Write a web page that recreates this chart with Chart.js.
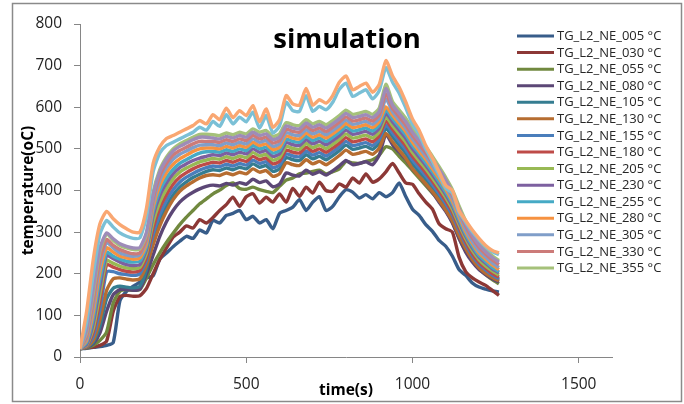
<!DOCTYPE html>
<html>
<head>
<meta charset="utf-8">
<script src="https://cdn.jsdelivr.net/npm/chart.js@4.4.1/dist/chart.umd.min.js"></script>
<style>
  html, body { margin: 0; padding: 0; background: #fff; }
  canvas { display: block; }
</style>
</head>
<body>
<canvas id="chart" width="684" height="404"></canvas>
<script>
// Time axis (s)
const timeS = [0,20,40,60,80,100,120,140,160,180,200,220,240,260,280,300,320,340,360,380,400,420,440,460,480,500,520,540,560,580,600,620,640,660,680,700,720,740,760,780,800,820,840,860,880,900,920,940,960,980,1000,1020,1040,1060,1080,1100,1120,1140,1160,1180,1200,1220,1240,1260];

const sensorNames = ['TG_L2_NE_005 °C','TG_L2_NE_030 °C','TG_L2_NE_055 °C','TG_L2_NE_080 °C','TG_L2_NE_105 °C','TG_L2_NE_130 °C','TG_L2_NE_155 °C','TG_L2_NE_180 °C','TG_L2_NE_205 °C','TG_L2_NE_230 °C','TG_L2_NE_255 °C','TG_L2_NE_280 °C','TG_L2_NE_305 °C','TG_L2_NE_330 °C','TG_L2_NE_355 °C','TG_L2_NE_380 °C','TG_L2_NE_405 °C','TG_L2_NE_430 °C'];

const lineColors = ['#385D8A','#8C3836','#71893F','#5C4776','#357D91','#B66D31','#4A7EBB','#BE4B48','#98B954','#7D60A0','#46AAC5','#F69240','#809EC9','#CC7B79','#A5C17A','#9E8CB8','#7BC0D6','#F9A772'];

// Temperatures (°C) per sensor
const tg005 = [20,21,23,25,28,35,135,158,170,180, 190,195,235,250,265,278,290,285,305,298, 328,322,340,345,352,330,338,322,330,308,345,352,360,378,352,372,385,352,362,385,402,396,382,390,380,395,385,395,418,385,355, 340,318,302,280,266,242,210,196,178,168,163,159,156];
const tg030 = [20,22,24,28,38,110,145,148,146,147, 165,200,235,262,288,300,315,310,330,322, 335,352,366,384,362,385,392,370,384,372,392,372,405,386,408,394,420,400,398,416,408,430,418,440,420,428,445,465,442,418,415, 392,372,355,320,308,300,240,205,190,180,172,160,148];
const tg055 = [20,22,28,40,60,130,158,162,160,162, 190,222,250,275,297,318,336,352,368,380, 392,401,412,418,405,403,408,402,398,395,410,425,430,440,442,446,449,440,445,452,470,466,465,470,474,485,505,500,482,466,448, 430,412,394,376,352,325,285,255,232,212,198,186,176];
const tg080 = [20,23,32,58,110,150,162,162,160,163, 200,245,290,325,352,372,386,396,404,410, 413,411,417,413,419,415,427,419,423,409,415,442,437,435,449,439,445,437,447,459,472,462,465,469,462,485,535,510,492,475,452, 435,415,395,372,350,322,285,252,228,210,198,188,180];
const tg105 = [20,24,36,75,140,165,170,168,166,170, 210,280,328,362,389,408,421,431,439,446, 450,448,454,450,456,452,464,456,460,446,452,479,474,472,486,476,482,474,484,496,509,499,502,506,499,514,549,529,509,489,464, 445,427,406,385,361,335,299,266,239,219,205,194,185];
const tg130 = [20,24,40,90,160,188,190,187,185,188, 220,270,315,350,378,398,411,421,430,436, 438,436,442,438,444,440,452,444,448,434,440,467,462,460,474,464,470,462,472,484,497,487,490,494,487,502,537,517,497,477,452, 434,416,397,376,353,327,292,260,234,214,201,191,183];
const tg155 = [20,25,50,115,205,205,200,198,196,200, 232,295,342,376,402,420,432,441,449,455, 459,457,463,459,465,461,473,465,469,455,461,488,483,481,495,485,491,483,493,505,518,508,511,515,508,523,558,538,518,498,473, 454,435,414,392,368,341,305,271,244,223,209,197,188];
const tg180 = [20,26,60,135,222,216,210,206,204,208, 240,310,358,390,415,432,443,452,459,464, 468,466,472,468,474,470,482,474,478,464,470,497,492,490,504,494,500,492,502,514,527,517,520,524,517,532,567,547,527,507,482, 463,443,422,399,375,348,311,277,249,228,214,201,192];
const tg205 = [20,28,70,152,232,225,218,214,212,215, 250,325,372,404,428,444,454,462,469,473, 477,475,481,477,483,479,491,483,487,473,479,506,501,499,513,503,509,501,511,523,536,526,529,533,526,541,576,556,536,516,491, 471,452,430,407,383,355,318,284,256,234,219,207,197];
const tg230 = [20,30,82,170,244,236,228,222,220,222, 258,340,388,418,440,455,464,472,478,482, 486,484,490,486,492,488,500,492,496,482,488,515,510,508,522,512,518,510,520,532,545,535,538,542,535,550,585,565,545,525,500, 480,460,438,415,390,362,325,290,262,240,225,212,202];
const tg255 = [20,35,95,188,252,242,235,230,228,230, 265,350,400,430,451,465,474,483,490,493, 494,492,498,494,500,496,508,500,504,490,496,523,518,516,530,520,526,518,528,540,553,543,546,550,543,558,593,573,553,533,508, 488,467,445,421,396,368,330,295,267,244,229,215,205];
const tg280 = [20,40,108,205,262,252,242,238,235,238, 272,360,412,443,463,476,485,494,500,502, 502,500,506,502,508,504,516,508,512,498,504,531,526,524,538,528,534,526,536,548,561,551,554,558,551,566,601,581,561,541,516, 495,475,452,429,403,374,337,301,273,250,235,221,210];
const tg305 = [20,45,122,222,275,262,250,245,242,245, 280,370,425,455,475,487,495,503,509,510, 510,508,514,510,516,512,524,516,520,506,512,539,534,532,546,536,542,534,544,556,569,559,562,566,559,574,620,589,569,549,524, 503,482,459,436,410,381,343,307,278,255,240,226,215];
const tg330 = [20,50,135,235,282,268,258,252,248,250, 285,380,435,465,485,496,504,512,518,518, 518,516,522,518,524,520,532,524,528,514,520,547,542,540,554,544,550,542,552,564,577,567,570,574,567,582,632,597,577,557,532, 511,490,467,443,417,388,350,315,286,263,247,233,222];
const tg355 = [20,60,155,255,296,280,268,262,258,260, 295,395,450,480,500,512,520,528,535,535, 534,532,538,534,540,536,548,540,544,530,536,563,558,556,570,560,566,558,568,580,593,583,586,590,583,598,655,613,593,573,548, 527,505,482,457,431,402,363,327,297,274,258,243,232];
const tg380 = [20,65,165,262,298,284,272,266,262,263, 300,390,445,475,495,506,514,522,528,528, 526,524,530,526,532,528,540,532,536,522,528,555,550,548,562,552,558,550,560,572,585,575,578,582,575,590,645,605,585,565,540, 519,498,475,451,425,396,357,321,292,269,253,239,228];
const tg405 = [20,85,200,295,328,312,298,290,285,286, 338,445,490,508,516,524,532,540,552,545, 566,554,582,560,576,565,588,550,580,538,555,612,592,590,628,590,602,594,612,643,658,626,634,642,620,640,695,660,634,598,560, 535,500,470,438,406,394,348,324,301,282,265,253,246];
const tg430 = [20,110,235,320,350,332,318,308,300,300, 358,465,505,525,532,540,548,556,568,560, 582,570,598,575,592,580,604,565,596,552,570,628,608,605,645,605,618,610,628,660,675,642,650,658,636,655,712,675,648,612,572, 545,508,478,445,412,400,352,328,305,285,268,256,250];

const seriesValues = [tg005,tg030,tg055,tg080,tg105,tg130,tg155,tg180,tg205,tg230,tg255,tg280,tg305,tg330,tg355,tg380,tg405,tg430];

const yTicks = [0,100,200,300,400,500,600,700,800];
const xTicks = [0,500,1000,1500];
const legendCount = 15;

const chartTitle = 'simulation';
const xTitle = 'time(s)';
const yTitle = 'temperature(oC)';

const axisGray = '#868686';
const tickFont = { family: "'Open Sans', sans-serif", size: 15.5 };

const datasets = seriesValues.map((vals, i) => ({
  label: sensorNames[i],
  data: vals.map((v, k) => ({ x: timeS[k], y: v })),
  borderColor: lineColors[i],
  backgroundColor: lineColors[i],
  borderWidth: 3.4,
  pointRadius: 0,
  tension: 0.2,
  fill: false,
  order: seriesValues.length - 1 - i
}));

// Frame, title, axis titles and the series key
const decorations = {
  id: 'decorations',
  beforeDraw(chart) {
    const ctx = chart.ctx;
    ctx.save();
    ctx.fillStyle = '#ffffff';
    ctx.fillRect(0, 0, chart.width, chart.height);
    ctx.restore();
  },
  afterDraw(chart) {
    const ctx = chart.ctx;
    const area = chart.chartArea;
    ctx.save();
    ctx.strokeStyle = '#8a8a8a';
    ctx.lineWidth = 1.5;
    ctx.strokeRect(12.5, 3.5, 669, 398);

    ctx.fillStyle = '#000';
    ctx.textAlign = 'center';
    ctx.textBaseline = 'alphabetic';
    ctx.font = "bold 27.5px 'Open Sans', sans-serif";
    ctx.fillText(chartTitle, 347, 48);

    ctx.font = "bold 15.5px 'Open Sans', sans-serif";
    ctx.textBaseline = 'middle';
    ctx.fillText(xTitle, (area.left + area.right) / 2, 391);
    ctx.save();
    ctx.translate(29, (area.top + area.bottom) / 2);
    ctx.rotate(-Math.PI / 2);
    ctx.fillText(yTitle, 0, 0);
    ctx.restore();

    ctx.textAlign = 'left';
    ctx.font = "13px 'Open Sans', sans-serif";
    for (let i = 0; i < legendCount; i++) {
      const ds = chart.data.datasets[i];
      const y = 36 + i * 16.57;
      ctx.strokeStyle = ds.borderColor;
      ctx.lineWidth = 3;
      ctx.beginPath();
      ctx.moveTo(517, y);
      ctx.lineTo(554, y);
      ctx.stroke();
      ctx.fillStyle = '#262626';
      ctx.fillText(ds.label, 557, y + 0.5);
    }
    ctx.restore();
  }
};

new Chart(document.getElementById('chart'), {
  type: 'line',
  data: { datasets },
  options: {
    responsive: false,
    animation: false,
    devicePixelRatio: 1,
    layout: { padding: { left: 0, top: 24, right: 72, bottom: 0 } },
    plugins: { legend: { display: false }, tooltip: { enabled: false }, title: { display: false } },
    scales: {
      x: {
        type: 'linear',
        min: 0,
        max: 1600,
        afterFit(scale) { scale.height = 47; },
        afterBuildTicks(scale) { scale.ticks = xTicks.map(v => ({ value: v })); },
        ticks: { color: '#222', font: tickFont, padding: 12, maxRotation: 0, autoSkip: false, callback: v => String(v) },
        grid: { display: true, drawOnChartArea: false, drawTicks: true, tickLength: 6, color: axisGray },
        border: { display: true, color: axisGray, width: 1 }
      },
      y: {
        type: 'linear',
        min: 0,
        max: 800,
        afterFit(scale) { scale.width = 80; },
        afterBuildTicks(scale) { scale.ticks = yTicks.map(v => ({ value: v })); },
        ticks: { color: '#222', font: tickFont, padding: 12, callback: v => String(v) },
        grid: { display: true, drawOnChartArea: false, drawTicks: true, tickLength: 6, color: axisGray },
        border: { display: true, color: axisGray, width: 1 }
      }
    }
  },
  plugins: [decorations]
});
</script>
</body>
</html>
